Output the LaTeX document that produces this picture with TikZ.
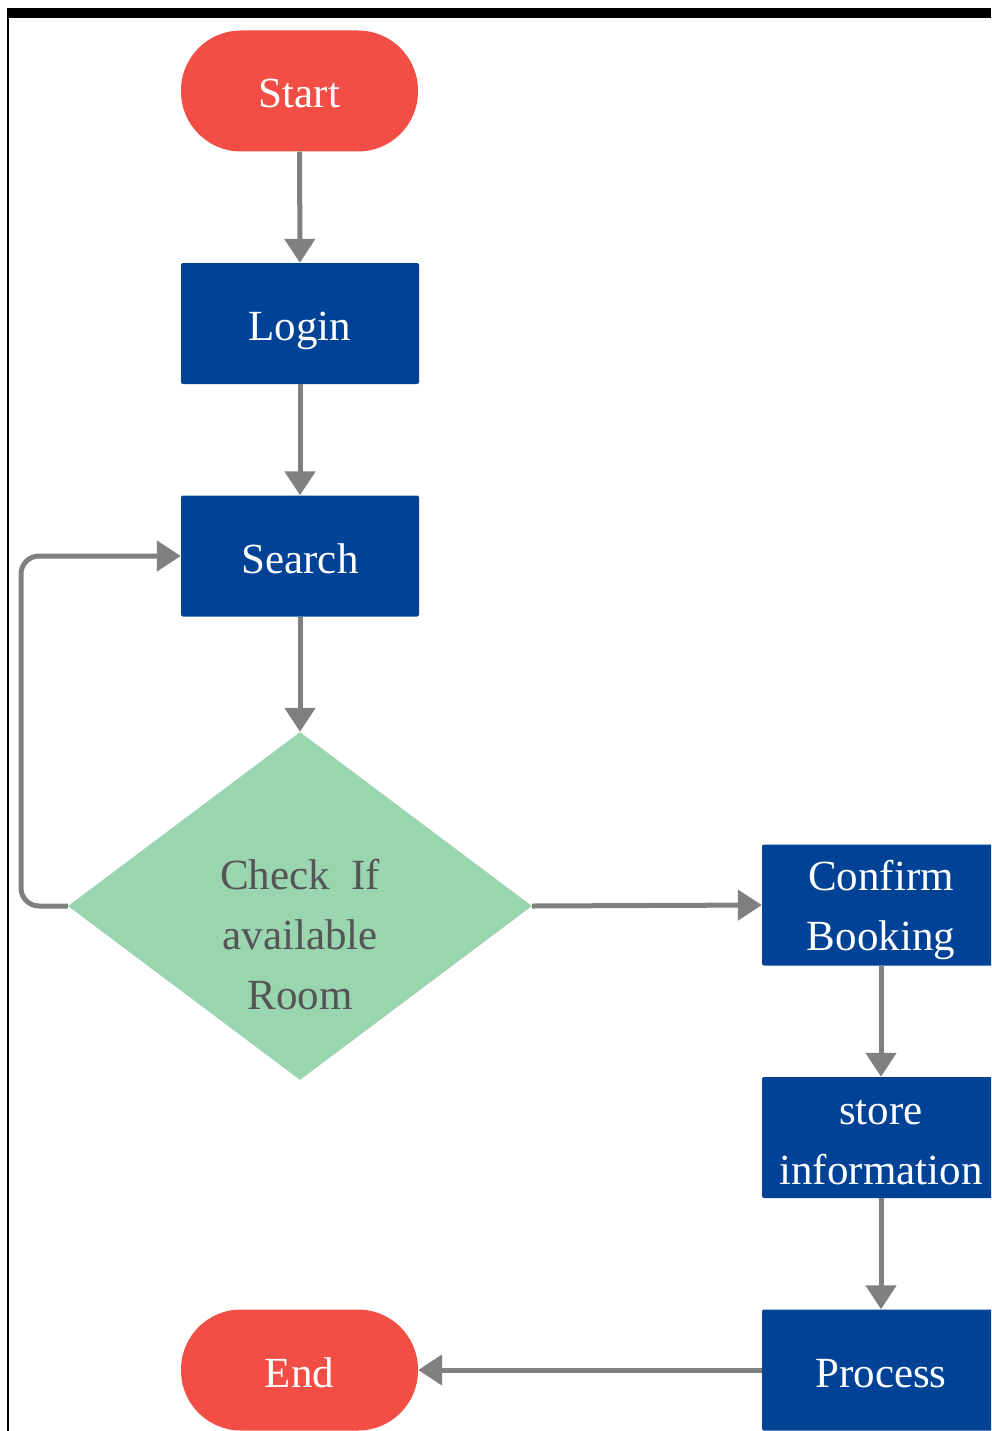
\documentclass[tikz,border=0pt]{standalone}
\usepackage{fontspec}
\setmainfont{Liberation Serif}
\usetikzlibrary{shapes.geometric,arrows.meta}
\definecolor{startred}{RGB}{242,78,69}
\definecolor{boxblue}{RGB}{0,66,150}
\definecolor{diagreen}{RGB}{153,213,174}
\definecolor{arrowgray}{RGB}{128,128,128}
\definecolor{textgray}{RGB}{85,85,85}
\begin{document}
\begin{tikzpicture}[x=1pt,y=-1pt,
  every node/.style={font=\fontsize{43}{60}\selectfont, align=center, inner sep=0pt},
  oneline/.style={text height=40pt, text depth=6pt},
  terminal/.style={shape=rectangle, rounded corners=60pt, fill=startred, text=white, minimum width=237pt, minimum height=121pt, oneline},
  process/.style={shape=rectangle, rounded corners=2pt, fill=boxblue, text=white, minimum width=238pt, minimum height=121pt},
  decision/.style={shape=diamond, fill=diagreen, minimum width=464pt, minimum height=348pt},
  boxlabel/.style={text=white, yshift=-5pt},
  checklabel/.style={text=textgray, yshift=-29pt},
  conn/.style={draw=arrowgray, line width=5pt, -{Triangle[width=30pt,length=24pt]}, rounded corners=18pt}
]
\useasboundingbox (0,0) rectangle (991,1431);
\clip (0,0) rectangle (991,1431);
\fill[black] (7,8) rectangle (991,18);
\fill[black] (7,18) rectangle (9,1431);

\node[terminal] (start) at (299.5,91) {Start};
\node[process, oneline] (login) at (300,323.5) {Login};
\node[process, oneline] (search) at (300,556) {Search};
\node[decision, label={[checklabel]center:Check\ \ If\\available\\Room}] (check) at (300,906) {};
\node[process, label={[boxlabel]center:Confirm\\Booking}] (confirm) at (881,905) {};
\node[process, label={[boxlabel]center:store\\information}] (store) at (881,1137.5) {};
\node[process, oneline] (proc) at (881,1370) {Process};
\node[terminal] (end) at (299.5,1370) {End};

\coordinate (loopbot) at (21,906);
\coordinate (looptop) at (21,556);

\draw[conn] (start) -- (login);
\draw[conn] (login) -- (search);
\draw[conn] (search) -- (check);
\draw[conn] (check.west) -- (loopbot) -- (looptop) -- (search.west);
\draw[conn] (check.east) -- (confirm.west);
\draw[conn] (confirm) -- (store);
\draw[conn] (store) -- (proc);
\draw[conn] (proc) -- (end);
\end{tikzpicture}
\end{document}
